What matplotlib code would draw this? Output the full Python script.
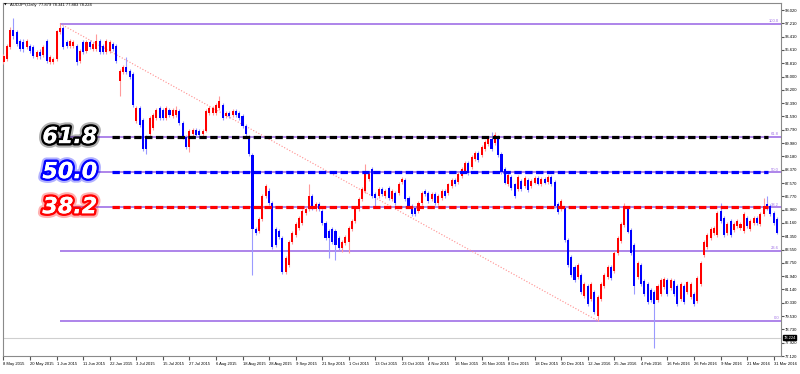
import numpy as np
import matplotlib.pyplot as plt
import matplotlib.patheffects as pe
from matplotlib.transforms import blended_transform_factory

# AUDJPY daily bars (index 0 = 8 May 2015)
opens = [
    94.89, 95.07, 95.78, 96.84, 96.67, 96.13, 96.07, 95.78, 95.84, 95.78,
    95.19, 95.48, 95.30, 96.13, 94.89, 94.89, 95.07, 96.67, 96.96, 96.07,
    95.84, 95.84, 95.84, 94.95, 96.07, 95.54, 96.07, 95.66, 95.66, 96.13,
    95.84, 95.48, 95.54, 95.96, 95.84, 93.71, 94.30, 94.59, 94.36, 94.18,
    91.34, 92.11, 91.40, 90.33, 90.51, 90.92, 91.51, 92.11, 91.99, 91.51,
    91.99, 91.63, 91.69, 91.93, 91.22, 90.33, 89.74, 90.51, 90.80, 90.74,
    90.51, 90.74, 91.81, 91.81, 91.81, 92.11, 92.28, 91.63, 91.81, 91.69,
    91.93, 91.81, 91.63, 91.04, 90.33, 89.26, 84.82, 84.70, 85.41, 86.77,
    87.07, 86.36, 84.82, 84.70, 84.23, 82.21, 82.63, 83.99, 84.40, 84.88,
    85.17, 85.77, 86.00, 86.77, 86.00, 86.30, 85.89, 85.17, 84.70, 84.82,
    84.70, 84.23, 83.63, 83.93, 83.99, 84.82, 85.29, 86.00, 86.60, 87.07,
    87.84, 88.43, 86.89, 86.77, 87.19, 86.77, 87.25, 86.60, 86.95, 86.95,
    87.66, 87.78, 86.66, 86.18, 86.06, 85.89, 86.36, 87.07, 86.95, 86.60,
    86.89, 86.36, 86.66, 87.07, 86.95, 87.37, 87.78, 87.66, 88.02, 88.31,
    88.79, 88.55, 89.03, 89.38, 89.26, 89.62, 89.91, 90.21, 89.97, 90.33,
    89.32, 88.43, 87.49, 87.96, 87.49, 87.19, 87.72, 87.37, 87.78, 87.37,
    87.60, 87.90, 87.49, 87.84, 87.66, 87.96, 87.66, 86.30, 86.00, 86.06,
    84.11, 83.10, 82.51, 81.92, 82.04, 80.73, 81.32, 80.55, 80.97, 79.55,
    80.55, 81.32, 81.92, 82.51, 82.27, 83.34, 84.05, 85.06, 86.06, 84.76,
    83.81, 81.92, 82.63, 81.68, 81.44, 81.09, 80.97, 80.49, 80.85, 81.27,
    81.74, 81.21, 81.68, 81.32, 80.55, 81.32, 80.97, 80.67, 80.85, 80.44,
    81.44, 83.22, 83.69, 84.23, 84.52, 84.40, 85.89, 85.47, 84.52, 85.29,
    84.76, 85.00, 84.88, 84.70, 85.47, 84.82, 85.17, 85.47, 85.12, 85.71,
    86.30, 86.18, 85.77, 85.41,
]
highs = [
    95.36, 95.96, 97.02, 97.56, 96.84, 96.25, 96.25, 96.25, 95.96, 95.90,
    95.60, 95.66, 95.90, 96.25, 95.30, 95.19, 96.84, 97.20, 97.08, 96.19,
    96.25, 96.19, 95.96, 95.66, 96.19, 96.19, 96.19, 96.07, 96.55, 96.25,
    95.96, 96.25, 96.19, 96.07, 95.96, 94.48, 94.71, 95.19, 94.48, 94.30,
    92.22, 92.22, 91.51, 90.45, 91.63, 91.81, 92.11, 92.22, 92.11, 92.22,
    92.11, 92.11, 92.22, 92.05, 91.34, 90.45, 90.86, 90.92, 90.92, 90.86,
    90.86, 92.05, 92.22, 92.22, 92.40, 92.82, 92.40, 91.93, 91.93, 92.05,
    92.05, 91.93, 91.75, 91.16, 90.45, 89.38, 84.94, 85.53, 86.89, 87.49,
    87.25, 86.48, 84.94, 84.82, 84.35, 83.16, 84.11, 84.70, 85.23, 85.59,
    86.00, 86.12, 87.54, 86.89, 86.42, 86.42, 86.00, 85.29, 84.82, 84.94,
    84.82, 84.35, 84.11, 84.40, 85.00, 85.41, 86.12, 86.71, 87.31, 88.73,
    88.26, 88.55, 87.01, 87.31, 87.31, 87.19, 87.37, 87.19, 87.07, 87.66,
    87.96, 87.90, 86.77, 86.30, 86.18, 86.48, 87.07, 87.19, 87.07, 87.01,
    87.01, 86.89, 87.19, 87.19, 87.60, 87.90, 87.90, 88.26, 88.55, 88.91,
    88.91, 89.26, 89.50, 89.50, 89.85, 90.15, 90.33, 90.63, 90.68, 90.45,
    89.44, 88.55, 88.20, 88.08, 87.60, 88.08, 87.84, 88.02, 87.90, 87.84,
    88.02, 88.02, 87.96, 87.96, 88.08, 88.08, 87.78, 86.42, 86.60, 86.18,
    84.23, 83.22, 82.63, 82.75, 82.15, 81.56, 81.44, 81.56, 81.09, 80.79,
    81.56, 82.15, 82.63, 82.63, 83.46, 84.35, 85.23, 86.36, 86.18, 84.88,
    83.93, 82.86, 82.75, 81.80, 81.56, 81.21, 81.09, 81.44, 81.86, 81.92,
    81.86, 81.86, 81.80, 81.44, 81.56, 81.44, 81.68, 81.56, 80.97, 81.98,
    82.86, 84.11, 84.52, 84.94, 85.00, 85.89, 86.36, 85.59, 85.23, 85.41,
    85.23, 85.41, 85.23, 85.83, 85.59, 85.41, 85.59, 85.59, 85.83, 86.66,
    86.77, 86.30, 85.89, 85.53,
]
lows = [
    94.77, 94.95, 95.66, 96.25, 95.84, 95.54, 95.48, 95.66, 95.42, 95.13,
    95.07, 95.07, 95.19, 94.83, 94.77, 94.77, 94.95, 96.55, 95.66, 95.72,
    95.72, 95.72, 94.71, 94.83, 95.36, 95.42, 95.66, 95.54, 95.54, 95.36,
    95.36, 95.36, 95.42, 95.54, 94.83, 92.82, 94.18, 94.18, 93.88, 92.17,
    91.22, 90.98, 89.50, 89.32, 90.39, 90.80, 91.40, 91.40, 91.40, 91.40,
    91.57, 91.51, 91.57, 91.10, 90.21, 89.62, 89.44, 90.39, 90.33, 90.33,
    90.39, 90.63, 91.69, 91.69, 91.69, 91.99, 91.40, 91.51, 91.51, 91.57,
    91.57, 91.40, 90.92, 90.39, 89.20, 82.04, 84.40, 84.52, 85.29, 86.66,
    86.24, 83.58, 83.69, 84.17, 82.09, 82.09, 82.51, 83.87, 84.29, 84.76,
    85.06, 85.65, 85.89, 85.94, 85.89, 85.89, 85.06, 84.11, 83.04, 83.87,
    82.92, 83.52, 83.40, 83.81, 83.34, 84.70, 85.17, 85.89, 86.48, 86.95,
    87.72, 86.66, 86.18, 86.66, 86.77, 86.66, 86.54, 86.48, 86.24, 86.83,
    87.54, 86.48, 86.06, 85.59, 85.59, 85.77, 86.24, 86.77, 86.36, 86.48,
    86.24, 86.24, 86.54, 86.66, 86.83, 87.25, 87.37, 87.54, 87.90, 88.20,
    88.08, 88.43, 88.91, 88.85, 89.14, 89.50, 89.79, 89.50, 89.85, 89.14,
    88.14, 87.49, 87.37, 87.13, 86.66, 87.07, 87.07, 87.25, 87.01, 87.25,
    87.49, 87.43, 87.37, 87.49, 87.54, 87.37, 86.06, 85.71, 85.89, 83.99,
    82.51, 81.92, 81.62, 81.80, 80.85, 80.61, 80.14, 80.44, 79.67, 79.25,
    80.44, 81.21, 81.80, 81.74, 82.15, 83.22, 83.93, 84.94, 84.52, 83.22,
    80.85, 81.80, 81.32, 80.73, 80.26, 80.38, 77.59, 80.38, 80.73, 81.15,
    80.73, 81.09, 80.73, 80.14, 80.44, 80.26, 80.85, 80.55, 80.14, 80.32,
    81.32, 83.10, 83.58, 84.11, 84.40, 84.29, 85.17, 84.29, 84.40, 84.29,
    84.64, 84.88, 84.76, 84.58, 84.88, 84.70, 85.06, 85.06, 85.00, 85.59,
    85.94, 85.59, 85.06, 84.46,
]
closes = [
    95.25, 95.84, 96.84, 96.43, 95.96, 95.66, 95.66, 96.13, 95.54, 95.25,
    95.48, 95.25, 95.78, 94.95, 95.19, 95.07, 96.73, 96.96, 95.78, 95.84,
    96.13, 96.07, 94.89, 95.54, 95.48, 96.07, 95.78, 95.96, 96.13, 95.48,
    95.48, 96.13, 96.07, 95.66, 94.95, 94.36, 94.59, 94.30, 94.00, 92.28,
    92.11, 91.10, 89.62, 89.62, 91.51, 91.69, 91.99, 91.51, 91.51, 92.11,
    91.69, 91.99, 91.99, 91.22, 90.33, 89.74, 90.74, 90.80, 90.45, 90.45,
    90.74, 91.93, 92.11, 92.11, 92.28, 92.52, 91.51, 91.81, 91.63, 91.93,
    91.69, 91.51, 91.04, 90.51, 89.32, 84.82, 84.58, 85.41, 86.77, 87.37,
    86.36, 83.69, 83.81, 84.29, 82.21, 83.04, 83.99, 84.58, 85.12, 85.47,
    85.89, 86.00, 86.77, 86.06, 86.30, 86.00, 85.17, 84.23, 84.23, 83.99,
    83.81, 83.63, 83.99, 84.29, 84.88, 85.29, 86.00, 86.60, 87.19, 88.14,
    88.14, 86.77, 86.66, 87.19, 86.89, 87.07, 86.66, 87.07, 86.36, 87.54,
    87.84, 86.60, 86.18, 85.71, 85.71, 86.36, 86.95, 86.89, 86.48, 86.89,
    86.36, 86.77, 87.07, 86.77, 87.49, 87.78, 87.49, 88.14, 88.43, 88.79,
    88.20, 89.14, 89.38, 88.97, 89.74, 90.03, 90.21, 89.62, 90.45, 89.26,
    88.26, 87.60, 88.08, 87.25, 86.77, 87.96, 87.19, 87.90, 87.13, 87.72,
    87.90, 87.54, 87.84, 87.60, 87.96, 87.49, 86.18, 85.83, 86.48, 84.11,
    82.63, 82.04, 81.74, 82.63, 80.97, 81.44, 80.26, 81.44, 79.78, 80.67,
    81.44, 82.04, 82.51, 81.86, 83.34, 84.23, 85.12, 86.06, 84.64, 83.34,
    81.32, 82.75, 81.44, 80.85, 80.38, 80.49, 80.26, 81.32, 81.74, 81.80,
    80.85, 81.74, 80.85, 80.26, 81.44, 80.38, 81.56, 81.44, 80.26, 81.86,
    82.75, 83.99, 84.40, 84.82, 84.88, 85.77, 85.29, 84.40, 85.12, 84.40,
    85.12, 85.29, 85.12, 85.71, 85.00, 85.29, 85.47, 85.17, 85.71, 86.18,
    86.06, 85.71, 85.17, 84.58,
]

date_labels = [
    "8 May 2015", "20 May 2015", "1 Jun 2015", "11 Jun 2015", "22 Jun 2015",
    "3 Jul 2015", "15 Jul 2015", "27 Jul 2015", "6 Aug 2015", "18 Aug 2015",
    "28 Aug 2015", "9 Sep 2015", "21 Sep 2015", "1 Oct 2015", "13 Oct 2015",
    "23 Oct 2015", "4 Nov 2015", "16 Nov 2015", "26 Nov 2015", "8 Dec 2015",
    "18 Dec 2015", "30 Dec 2015", "12 Jan 2016", "25 Jan 2016", "4 Feb 2016",
    "16 Feb 2016", "26 Feb 2016", "9 Mar 2016", "21 Mar 2016", "31 Mar 2016",
]
price_labels = [
    "77.120", "77.920", "78.730", "79.530", "80.330", "81.140", "81.940",
    "82.750", "83.550", "84.350", "85.160", "85.960", "86.770", "87.570",
    "88.370", "89.180", "89.980", "90.790", "91.590", "92.390", "93.200",
    "94.000", "94.810", "95.610", "96.410", "97.210", "98.020",
]

fib_levels = [100.0, 61.8, 50.0, 38.2, 23.6, 0.0]
swing_high, swing_low = 97.20, 79.25
swing_high_bar, swing_low_bar = 17, 179
big_labels = ["61.8", "50.0", "38.2"]
big_colors = ["#000000", "#0000ff", "#ff0000"]
last_price = 78.224
header = "AUDJPY,Daily  77.879 78.341 77.883 78.224"

SMALL = 3.0


def main():
    plt.rcParams['font.family'] = ['Liberation Sans', 'DejaVu Sans']
    fig = plt.figure(figsize=(8, 3.74), dpi=100)
    ax = fig.add_axes([3 / 800, 18 / 374, 778 / 800, 353 / 374])
    xmin, xmax = -0.15, 234.2
    ax.set_xlim(xmin, xmax)
    ax.set_ylim(77.533, 98.444)

    # last price line
    ax.axhline(last_price, color='#cfcfcf', lw=0.8, zorder=1)

    # fibonacci levels
    rng = swing_high - swing_low
    fib_price = {lvl: swing_low + rng * lvl / 100 for lvl in fib_levels}
    for lvl in fib_levels:
        p = fib_price[lvl]
        ax.hlines(p, swing_high_bar, xmax, colors='#a070e6', lw=1.2, zorder=2)
        ax.text(xmax - 0.6, p + 0.04, f"{lvl:.1f}", fontsize=SMALL, color='#a070e6',
                ha='right', va='bottom', zorder=6)
    ax.plot([swing_high_bar, swing_low_bar], [swing_high, swing_low],
            color='#ff8c8c', ls=':', lw=0.8, zorder=2)

    # candles
    x = np.arange(len(opens))
    o, h, l, c = map(np.array, (opens, highs, lows, closes))
    up = c >= o
    body_col = np.where(up, '#ff0000', '#0000ff')
    wick_col = np.where(up, '#ff9a9a', '#9a9aff')
    ax.vlines(x, l, h, colors=wick_col, lw=0.8, zorder=3)
    bottom = np.minimum(o, c)
    height = np.maximum(np.abs(c - o), 0.05)
    ax.bar(x, height, 0.62, bottom, color=body_col, lw=0, zorder=4)

    # thick dashed lines + big labels
    for txt, col in zip(big_labels, big_colors):
        p = fib_price[float(txt)]
        ax.hlines(p, 32.7, 230.3, colors=col, lw=2.3,
                  linestyles=(0, (2.3, 1.1)), zorder=5)
        ax.text(20, p, txt, fontsize=16, fontweight='bold', style='italic',
                family=['DejaVu Sans'], color='white',
                ha='center', va='center', zorder=7,
                path_effects=[pe.withStroke(linewidth=6.5, foreground=col, alpha=0.3),
                              pe.withStroke(linewidth=3.5, foreground=col),
                              pe.Normal()])

    # axes styling
    for s in ax.spines.values():
        s.set_color('#8a8a8a')
        s.set_linewidth(0.8)
    ax.yaxis.tick_right()
    ax.set_yticks([float(v) for v in price_labels])
    ax.set_yticklabels(price_labels)
    ax.tick_params(axis='y', labelsize=SMALL, length=2, pad=1, color='#555555')
    ax.set_xticks(np.arange(len(date_labels)) * 8)
    ax.set_xticklabels(date_labels)
    for lbl in ax.get_xticklabels():
        lbl.set_ha('left')
    ax.tick_params(axis='x', labelsize=SMALL, length=3, pad=1.5, color='#555555')

    # price box on the axis
    trans = blended_transform_factory(ax.transAxes, ax.transData)
    ax.text(1.003, last_price, "78.224", transform=trans, fontsize=SMALL,
            color='white', va='center', ha='left', clip_on=False,
            bbox=dict(boxstyle='square,pad=0.15', fc='black', ec='black'))

    fig.text(4 / 800, 1 - 5 / 374, "\u25bc", fontsize=2.5, va='center',
             family=['DejaVu Sans'])
    fig.text(10 / 800, 1 - 5 / 374, header, fontsize=SMALL, va='center')

    fig.savefig('out.png', dpi=100)


if __name__ == "__main__":
    main()
